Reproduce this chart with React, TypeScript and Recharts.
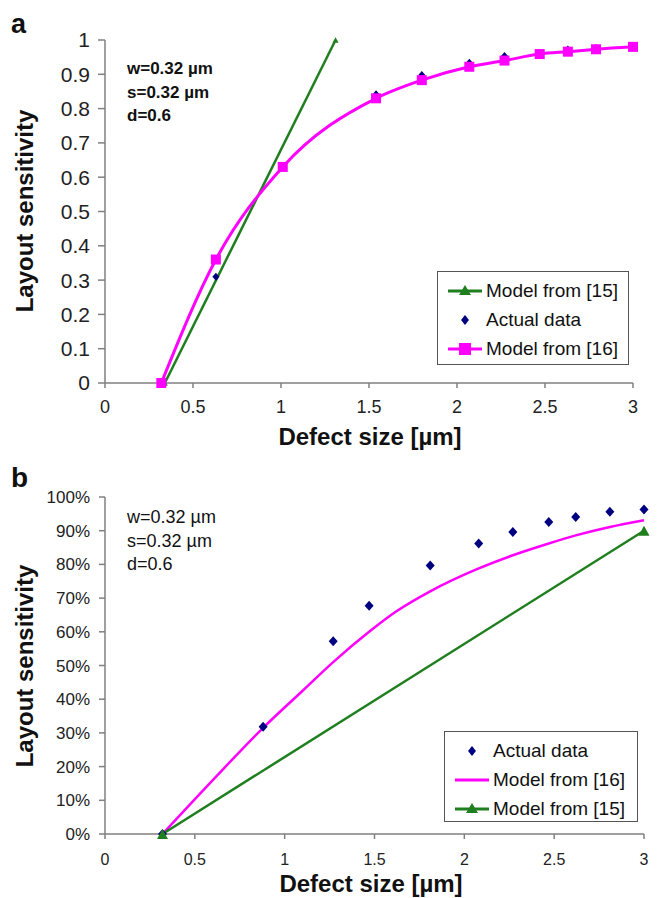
import React from "react";
import { ComposedChart, Line, Scatter, XAxis, YAxis, Legend } from "recharts";

// Panel a: layout sensitivity vs defect size
const xTicks = [0, 0.5, 1, 1.5, 2, 2.5, 3];
const yTicksA = [0, 0.1, 0.2, 0.3, 0.4, 0.5, 0.6, 0.7, 0.8, 0.9, 1];

const model15AX = [0.34, 1.31];
const model15AY = [0, 1];

const model16AX = [0.32, 0.63, 1.01, 1.54, 1.8, 2.07, 2.27, 2.47, 2.63, 2.79, 3.0];
const model16AY = [0, 0.36, 0.63, 0.83, 0.883, 0.922, 0.94, 0.959, 0.966, 0.973, 0.98];

const actualAX = [0.32, 0.63, 1.01, 1.54, 1.8, 2.07, 2.27, 2.47, 2.63, 2.79, 3.0];
const actualAY = [0, 0.31, 0.63, 0.842, 0.898, 0.934, 0.953, 0.96, 0.972, 0.977, 0.982];

// Panel b
const yTicksB = [0, 0.1, 0.2, 0.3, 0.4, 0.5, 0.6, 0.7, 0.8, 0.9, 1];

const actualBX = [0.32, 0.88, 1.27, 1.47, 1.81, 2.08, 2.27, 2.47, 2.62, 2.81, 3.0];
const actualBY = [0, 0.318, 0.572, 0.677, 0.797, 0.862, 0.896, 0.926, 0.941, 0.956, 0.963];

const model16BX = [0.32, 0.6, 0.88, 1.1, 1.27, 1.47, 1.62, 1.81, 2.08, 2.27, 2.47, 2.62, 2.81, 3.0];
const model16BY = [0, 0.16, 0.315, 0.425, 0.51, 0.6, 0.66, 0.72, 0.788, 0.827, 0.862, 0.886, 0.911, 0.931];

const model15BX = [0.32, 3.0];
const model15BY = [0, 0.9];

const paramLines = ["w=0.32 µm", "s=0.32 µm", "d=0.6"];

const GREEN = "#1f7f1f";
const PINK = "#ff00ff";
const NAVY = "#000080";
const AXIS = "#808080";
const FONT = '"Liberation Sans", Arial, sans-serif';

const pts = (xs: number[], ys: number[]) => xs.map((x, i) => ({ x, y: ys[i] }));

const squareDot = (color: string, s: number) => (props: any) => {
  const { cx, cy, index } = props;
  return <rect key={`sq-${index}`} x={cx - s / 2} y={cy - s / 2} width={s} height={s} fill={color} />;
};

const triangleDot = (color: string, s: number) => (props: any) => {
  const { cx, cy, index } = props;
  const h = s * 0.9;
  return (
    <polygon
      key={`tr-${index}`}
      points={`${cx},${cy - h / 2} ${cx + s / 2},${cy + h / 2} ${cx - s / 2},${cy + h / 2}`}
      fill={color}
    />
  );
};

const diamondShape = (s: number) => (props: any) => {
  const { cx, cy } = props;
  return (
    <polygon
      points={`${cx},${cy - s / 2} ${cx + s / 2 - 0.5},${cy} ${cx},${cy + s / 2} ${cx - s / 2 + 0.5},${cy}`}
      fill={NAVY}
    />
  );
};

type LegendRow = { label: string; kind: "line" | "diamond"; color: string; marker?: "square" | "triangle" };

function LegendBox({ rows, fontSize }: { rows: LegendRow[]; fontSize: number }) {
  return (
    <div
      style={{
        border: "1px solid #555",
        background: "#fff",
        padding: "4px 8px 4px 10px",
        fontFamily: FONT,
        fontSize,
        color: "#111",
        boxSizing: "border-box",
        width: "100%",
        height: "100%",
      }}
    >
      {rows.map((r) => (
        <div key={r.label} style={{ display: "flex", alignItems: "center", height: 29 }}>
          <svg width={36} height={20} style={{ marginRight: 2 }}>
            {r.kind === "line" && <line x1={0} y1={10} x2={34} y2={10} stroke={r.color} strokeWidth={3} />}
            {r.kind === "line" && r.marker === "square" && <rect x={11} y={4} width={12} height={12} fill={r.color} />}
            {r.kind === "line" && r.marker === "triangle" && (
              <polygon points="17,4 23,14 11,14" fill={r.color} />
            )}
            {r.kind === "diamond" && <polygon points="17,5 21,10 17,15 13,10" fill={r.color} />}
          </svg>
          <span>{r.label}</span>
        </div>
      ))}
    </div>
  );
}

const legendRowsA: LegendRow[] = [
  { label: "Model from [15]", kind: "line", color: GREEN, marker: "triangle" },
  { label: "Actual data", kind: "diamond", color: NAVY },
  { label: "Model from [16]", kind: "line", color: PINK, marker: "square" },
];

const legendRowsB: LegendRow[] = [
  { label: "Actual data", kind: "diamond", color: NAVY },
  { label: "Model from [16]", kind: "line", color: PINK },
  { label: "Model from [15]", kind: "line", color: GREEN, marker: "triangle" },
];

const pct = (v: number) => `${Math.round(v * 100)}%`;

export default function App() {
  return (
    <div style={{ position: "absolute", left: 0, top: 0, width: 657, height: 898, background: "#fff", fontFamily: FONT }}>
      {/* Panel a */}
      <div style={{ position: "absolute", left: 0, top: 0 }}>
        <ComposedChart width={657} height={460} margin={{ top: 40, right: 24, bottom: 47, left: 45 }}>
          <XAxis
            type="number"
            dataKey="x"
            domain={[0, 3]}
            ticks={xTicks}
            height={30}
            stroke={AXIS}
            strokeWidth={1.5}
            tickSize={5}
            tickMargin={12}
            tick={{ fill: "#222", fontSize: 18, fontFamily: FONT }}
          />
          <YAxis
            type="number"
            dataKey="y"
            domain={[0, 1]}
            ticks={yTicksA}
            width={60}
            stroke={AXIS}
            strokeWidth={1.5}
            tickSize={7}
            tickMargin={8}
            tick={{ fill: "#222", fontSize: 21, fontFamily: FONT }}
          />
          <Line
            data={pts(model15AX, model15AY)}
            dataKey="y"
            type="linear"
            stroke={GREEN}
            strokeWidth={2.5}
            dot={triangleDot(GREEN, 6)}
            isAnimationActive={false}
          />
          <Scatter data={pts(actualAX, actualAY)} dataKey="y" fill={NAVY} shape={diamondShape(8)} isAnimationActive={false} />
          <Line
            data={pts(model16AX, model16AY)}
            dataKey="y"
            type="monotone"
            stroke={PINK}
            strokeWidth={3}
            dot={squareDot(PINK, 10)}
            isAnimationActive={false}
          />
          <Legend
            layout="horizontal"
            verticalAlign="middle"
            align="center"
            wrapperStyle={{ left: 437, top: 271, width: 192, height: 94 }}
            content={() => <LegendBox rows={legendRowsA} fontSize={19} />}
          />
          <text x={11} y={33} fontSize={27} fontWeight="bold" fill="#111" fontFamily={FONT}>a</text>
          <text
            x={24}
            y={211}
            transform="rotate(-90 24 211)"
            textAnchor="middle"
            dominantBaseline="central"
            fontSize={24}
            fontWeight="bold"
            fill="#111"
            fontFamily={FONT}
          >
            Layout sensitivity
          </text>
          <text x={370} y={445} textAnchor="middle" fontSize={24} fontWeight="bold" fill="#111" fontFamily={FONT}>
            Defect size [µm]
          </text>
          {paramLines.map((t, i) => (
            <text key={t} x={127} y={74 + i * 23.5} fontSize={17} fontWeight="bold" fill="#111" fontFamily={FONT}>
              {t}
            </text>
          ))}
        </ComposedChart>
      </div>

      {/* Panel b */}
      <div style={{ position: "absolute", left: 0, top: 450 }}>
        <ComposedChart width={657} height={448} margin={{ top: 47, right: 13, bottom: 34, left: 45 }}>
          <XAxis
            type="number"
            dataKey="x"
            domain={[0, 3]}
            ticks={xTicks}
            height={30}
            stroke={AXIS}
            strokeWidth={1.5}
            tickSize={5}
            tickMargin={15}
            tick={{ fill: "#222", fontSize: 16, fontFamily: FONT }}
          />
          <YAxis
            type="number"
            dataKey="y"
            domain={[0, 1]}
            ticks={yTicksB}
            tickFormatter={pct}
            width={60}
            stroke={AXIS}
            strokeWidth={1.5}
            tickSize={6}
            tickMargin={9}
            tick={{ fill: "#222", fontSize: 17, fontFamily: FONT }}
          />
          <Line
            data={pts(model16BX, model16BY)}
            dataKey="y"
            type="monotone"
            stroke={PINK}
            strokeWidth={2.5}
            dot={false}
            isAnimationActive={false}
          />
          <Line
            data={pts(model15BX, model15BY)}
            dataKey="y"
            type="linear"
            stroke={GREEN}
            strokeWidth={2.5}
            dot={triangleDot(GREEN, 11)}
            isAnimationActive={false}
          />
          <Scatter data={pts(actualBX, actualBY)} dataKey="y" fill={NAVY} shape={diamondShape(10)} isAnimationActive={false} />
          <Legend
            layout="horizontal"
            verticalAlign="middle"
            align="center"
            wrapperStyle={{ left: 444, top: 281, width: 194, height: 91 }}
            content={() => <LegendBox rows={legendRowsB} fontSize={19} />}
          />
          <text x={11} y={37} fontSize={28} fontWeight="bold" fill="#111" fontFamily={FONT}>b</text>
          <text
            x={24}
            y={216}
            transform="rotate(-90 24 216)"
            textAnchor="middle"
            dominantBaseline="central"
            fontSize={24}
            fontWeight="bold"
            fill="#111"
            fontFamily={FONT}
          >
            Layout sensitivity
          </text>
          <text x={371} y={442} textAnchor="middle" fontSize={24} fontWeight="bold" fill="#111" fontFamily={FONT}>
            Defect size [µm]
          </text>
          {paramLines.map((t, i) => (
            <text key={t} x={127} y={73 + i * 23.5} fontSize={18} fill="#111" fontFamily={FONT}>
              {t}
            </text>
          ))}
        </ComposedChart>
      </div>
    </div>
  );
}
